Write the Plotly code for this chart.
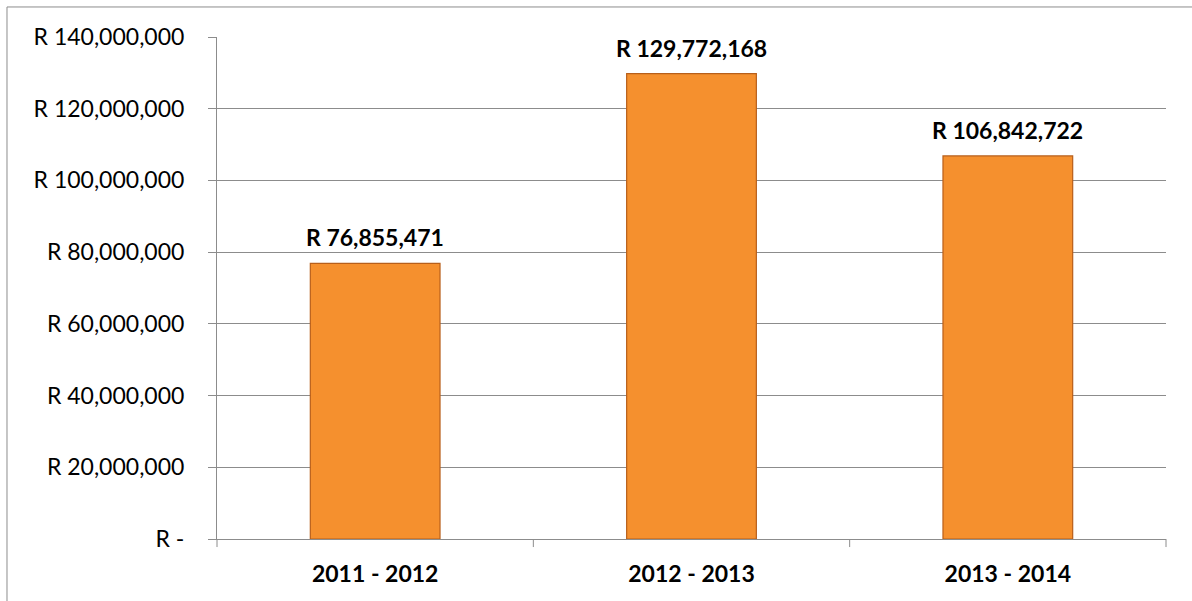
import plotly.graph_objects as go

categories = ["2011 - 2012", "2012 - 2013", "2013 - 2014"]
values = [76855471, 129772168, 106842722]
value_labels = ["R 76,855,471", "R 129,772,168", "R 106,842,722"]
tick_vals = [0, 20000000, 40000000, 60000000, 80000000, 100000000, 120000000, 140000000]
tick_text = ["R -", "R 20,000,000", "R 40,000,000", "R 60,000,000", "R 80,000,000",
             "R 100,000,000", "R 120,000,000", "R 140,000,000"]

FONT = "Lato"
FS = 23

fig = go.Figure()
fig.add_trace(go.Bar(
    x=categories, y=values, width=0.41,
    marker=dict(color="#F5902E", line=dict(color="#B85F1A", width=1.2)),
    hoverinfo="skip",
))

for c, v, t in zip(categories, values, value_labels):
    fig.add_annotation(x=c, y=v, text="<b>%s</b>" % t, showarrow=False,
                       yanchor="bottom", yshift=10,
                       font=dict(family=FONT, size=FS, color="#000000"))

grid = "#8C8C8C"
fig.update_layout(
    width=1192, height=601,
    margin=dict(l=217, r=26, t=37, b=62),
    paper_bgcolor="white", plot_bgcolor="white",
    showlegend=False, bargap=0.59,
    font=dict(family=FONT, size=FS, color="#000000"),
    xaxis=dict(showline=True, linecolor=grid, linewidth=1,
               tickfont=dict(family=FONT, size=FS, color="#000"),
               ticks="", showgrid=False, zeroline=False,
               tickprefix="<b>", ticksuffix="</b>", ticklabelstandoff=14),
    yaxis=dict(range=[0, 140000000], tickvals=tick_vals, ticktext=tick_text,
               showgrid=True, gridcolor=grid, gridwidth=1,
               showline=True, linecolor=grid, linewidth=1,
               ticks="outside", ticklen=8, tickcolor=grid, ticklabelstandoff=19,
               zeroline=False, tickfont=dict(family=FONT, size=FS, color="#000")),
    shapes=[
        dict(type="rect", xref="paper", yref="paper", x0=-0.2213, x1=1.2, y0=-0.3, y1=1.0598,
             line=dict(color="#8C8C8C", width=1), fillcolor="rgba(0,0,0,0)", layer="below"),
    ] + [
        dict(type="line", xref="paper", yref="paper", x0=xp, x1=xp, y0=0, y1=-0.016,
             line=dict(color=grid, width=1))
        for xp in [0, 1/3, 2/3, 1]
    ],
)

fig.write_html("out.html")
